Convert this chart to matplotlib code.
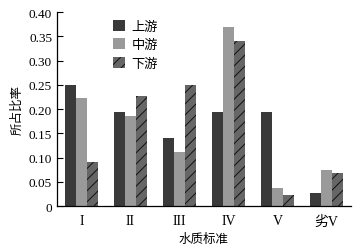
import matplotlib
matplotlib.use("Agg")
import matplotlib.pyplot as plt
import numpy as np

categories = ["I", "II", "III", "IV", "V", "劣V"]
series_names = ["上游", "中游", "下游"]
upstream = [0.25, 0.194, 0.14, 0.194, 0.194, 0.027]
midstream = [0.222, 0.186, 0.112, 0.37, 0.038, 0.074]
downstream = [0.09, 0.227, 0.25, 0.341, 0.023, 0.068]
yticks = [0, 0.05, 0.10, 0.15, 0.20, 0.25, 0.30, 0.35, 0.40]
ytick_labels = ["0", "0.05", "0.10", "0.15", "0.20", "0.25", "0.30", "0.35", "0.40"]

plt.rcParams['hatch.linewidth'] = 0.7
fam = ['Liberation Serif', 'Noto Sans CJK SC']

fig = plt.figure(figsize=(3.58, 2.51), dpi=100)
ax = fig.add_axes([0.159, 0.175, 0.821, 0.773])

x = np.arange(len(categories))
w = 0.22
ax.bar(x - w, upstream, w, color='#3a3a3a', label=series_names[0])
ax.bar(x, midstream, w, color='#9a9a9a', label=series_names[1])
ax.bar(x + w, downstream, w, color='#666666', hatch='///', edgecolor='#111111',
       linewidth=0, label=series_names[2])

ax.set_xlim(-0.5, 5.5)
ax.set_ylim(0, 0.40)
ax.set_yticks(yticks)
ax.set_yticklabels(ytick_labels, family=fam, fontsize=9.5)
ax.set_xticks(x)
ax.set_xticklabels(categories, family=fam, fontsize=10)
ax.tick_params(axis='y', direction='in', length=4, width=0.8)
ax.tick_params(axis='x', length=0, pad=6)
for s in ['top', 'right']:
    ax.spines[s].set_visible(False)
ax.spines['left'].set_linewidth(0.9)
ax.spines['bottom'].set_linewidth(0.9)

ax.set_ylabel("所占比率", family=fam, fontsize=9, labelpad=4)
ax.set_xlabel("水质标准", family=fam, fontsize=9, labelpad=4)

leg = ax.legend(loc='upper left', bbox_to_anchor=(0.15, 1.02), frameon=False,
                prop={'family': fam, 'size': 9.5}, handlelength=0.9, handleheight=0.9,
                labelspacing=0.4, handletextpad=0.5)

fig.savefig("out.png", dpi=100)
